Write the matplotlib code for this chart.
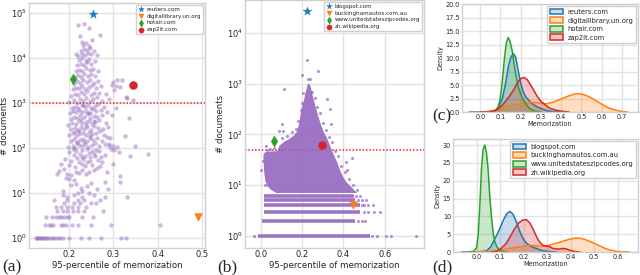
import numpy as np
import matplotlib.pyplot as plt
import seaborn as sns
from matplotlib.patches import Patch
from matplotlib.colors import to_rgba

sns.set_style("whitegrid")
plt.rcParams['font.family'] = ['DejaVu Sans']

# ---------------- data: panel (a) -----------------
# (95-percentile of memorization, # documents) for each domain
a_points = [
    # 1 document
    (0.124, 1), (0.127, 1), (0.130, 1), (0.133, 1), (0.136, 1), (0.139, 1), (0.142, 1),
    (0.145, 1), (0.149, 1), (0.153, 1), (0.158, 1), (0.163, 1), (0.168, 1), (0.174, 1),
    (0.180, 1), (0.186, 1), (0.200, 1), (0.226, 1), (0.245, 1), (0.272, 1), (0.318, 1),
    (0.328, 1),
    # 2..9
    (0.145, 2), (0.155, 2), (0.158, 2), (0.164, 2), (0.181, 2), (0.187, 2), (0.192, 2),
    (0.207, 2), (0.219, 2), (0.249, 2), (0.295, 2), (0.405, 2),
    (0.147, 3), (0.162, 3), (0.170, 3), (0.177, 3), (0.181, 3), (0.189, 3), (0.196, 3),
    (0.200, 3), (0.230, 3), (0.253, 3),
    (0.173, 4), (0.187, 4), (0.196, 4), (0.208, 4), (0.219, 4), (0.233, 4), (0.276, 4),
    (0.170, 5), (0.181, 5), (0.196, 5), (0.207, 5), (0.219, 5), (0.238, 5),
    (0.189, 6), (0.210, 6), (0.225, 6), (0.249, 6), (0.261, 6),
    (0.166, 7), (0.196, 7), (0.219, 7), (0.233, 7), (0.270, 7),
    (0.196, 8), (0.230, 8), (0.280, 8), (0.330, 8),
    (0.185, 9), (0.211, 9), (0.257, 9),
    # 10..100
    (0.219, 10), (0.245, 10), (0.185, 11), (0.230, 11), (0.263, 12), (0.287, 12),
    (0.204, 15), (0.215, 16), (0.280, 18), (0.314, 18), (0.211, 19), (0.193, 22),
    (0.240, 14), (0.226, 13), (0.250, 17), (0.200, 20), (0.314, 24), (0.172, 26),
    (0.177, 31), (0.188, 35), (0.195, 27), (0.205, 25), (0.215, 30), (0.222, 28),
    (0.230, 33), (0.238, 26), (0.245, 29), (0.255, 32), (0.262, 36), (0.270, 40),
    (0.285, 30), (0.298, 44), (0.182, 45), (0.200, 42), (0.212, 38), (0.228, 45),
    (0.240, 48), (0.252, 41), (0.265, 55), (0.190, 58), (0.205, 52), (0.218, 60),
    (0.232, 57), (0.248, 62), (0.258, 66), (0.275, 50), (0.210, 70), (0.225, 72),
    (0.236, 68), (0.244, 78), (0.255, 75), (0.268, 85), (0.200, 80), (0.215, 88),
    (0.230, 92), (0.240, 95), (0.260, 90), (0.280, 70), (0.312, 83), (0.302, 91),
    (0.295, 93), (0.338, 65), (0.378, 72), (0.222, 50), (0.235, 40), (0.247, 52),
    (0.228, 64), (0.252, 88), (0.208, 95), (0.272, 62),
    # 100..1000
    (0.197, 105), (0.208, 112), (0.214, 101), (0.221, 118), (0.229, 108), (0.236, 125),
    (0.243, 103), (0.251, 115), (0.259, 130), (0.268, 110), (0.281, 122), (0.291, 109),
    (0.203, 140), (0.211, 155), (0.218, 135), (0.225, 148), (0.232, 160), (0.240, 142),
    (0.247, 170), (0.254, 150), (0.262, 165), (0.273, 145), (0.286, 175),
    (0.200, 190), (0.209, 210), (0.216, 185), (0.223, 200), (0.231, 220), (0.238, 195),
    (0.245, 230), (0.252, 205), (0.260, 215), (0.270, 240), (0.279, 198),
    (0.205, 260), (0.212, 280), (0.219, 250), (0.226, 300), (0.234, 270), (0.241, 290),
    (0.249, 255), (0.256, 310), (0.265, 285), (0.276, 265), (0.288, 300),
    (0.198, 330), (0.207, 360), (0.215, 340), (0.222, 390), (0.229, 350), (0.237, 370),
    (0.244, 400), (0.251, 345), (0.259, 380), (0.268, 420), (0.283, 355),
    (0.203, 450), (0.211, 500), (0.218, 470), (0.225, 530), (0.233, 480), (0.240, 560),
    (0.247, 460), (0.255, 520), (0.263, 490), (0.274, 550),
    (0.201, 600), (0.209, 650), (0.216, 620), (0.223, 700), (0.230, 640), (0.238, 680),
    (0.246, 610), (0.253, 720), (0.261, 660), (0.271, 690), (0.285, 630),
    (0.206, 760), (0.213, 820), (0.220, 780), (0.228, 880), (0.235, 800), (0.242, 900),
    (0.250, 770), (0.258, 850), (0.266, 940), (0.279, 810),
    (0.217, 128), (0.233, 135), (0.248, 185), (0.221, 240), (0.238, 320), (0.227, 430),
    (0.244, 600), (0.231, 900), (0.213, 230), (0.255, 400),
    # 1000..10000
    (0.199, 1050), (0.210, 1150), (0.217, 1000), (0.224, 1250), (0.231, 1100),
    (0.239, 1300), (0.246, 1080), (0.254, 1200), (0.262, 1350), (0.275, 1120),
    (0.290, 1250), (0.204, 1450), (0.212, 1600), (0.219, 1500), (0.226, 1750),
    (0.233, 1550), (0.241, 1800), (0.249, 1480), (0.257, 1650), (0.268, 1700),
    (0.283, 1580), (0.208, 2000), (0.215, 2200), (0.222, 2100), (0.229, 2400),
    (0.236, 2050), (0.244, 2300), (0.252, 2500), (0.261, 2150), (0.272, 2350),
    (0.211, 2700), (0.218, 3000), (0.225, 2800), (0.232, 3300), (0.240, 2900),
    (0.248, 3200), (0.256, 2750), (0.266, 3100), (0.212, 3700), (0.220, 4100),
    (0.227, 3800), (0.234, 4500), (0.242, 3900), (0.250, 4300), (0.259, 4000),
    (0.215, 5000), (0.223, 5500), (0.230, 5200), (0.238, 6000), (0.246, 5300),
    (0.254, 5800), (0.265, 5100), (0.218, 6800), (0.226, 7500), (0.233, 7000),
    (0.241, 8000), (0.249, 7200), (0.222, 9000), (0.230, 9800), (0.237, 8700),
    (0.245, 9500), (0.258, 8500),
    # above 10000
    (0.220, 11000), (0.228, 12500), (0.235, 11500), (0.243, 13000), (0.250, 12000),
    (0.226, 14500), (0.233, 16000), (0.240, 15000), (0.247, 17000), (0.231, 19000),
    (0.238, 21000), (0.245, 18500), (0.256, 14000), (0.262, 11500), (0.215, 12000),
    (0.225, 30000), (0.230, 23000), (0.270, 32000), (0.220, 54000), (0.234, 56000),
    (0.245, 47000), (0.252, 25000),
    # right-hand stragglers
    (0.300, 2950), (0.307, 3160), (0.320, 3240), (0.297, 2510), (0.306, 2400),
    (0.314, 2240), (0.302, 1950), (0.329, 1380), (0.330, 1260), (0.344, 1170),
    (0.305, 760), (0.297, 540), (0.336, 460), (0.293, 166), (0.291, 123),
    (0.300, 110), (0.307, 105), (0.327, 186), (0.348, 110),
]
a_names = ["reuters.com", "digitallibrary.un.org", "hotair.com", "zap2it.com"]
a_mem = [0.253, 0.491, 0.208, 0.345]
a_docs = [95000, 3, 3400, 2450]
a_threshold = 1000

# ---------------- data: panel (b) -----------------
# outline of the saturated cloud of domains (memorization, # documents)
b_cloud = [
    (0.075, 7), (0.050, 8), (0.032, 9.5), (0.022, 12), (0.016, 18), (0.014, 25),
    (0.012, 35), (0.014, 42), (0.025, 45), (0.050, 46), (0.080, 47), (0.090, 60),
    (0.110, 70), (0.135, 80), (0.160, 95), (0.175, 115), (0.185, 160), (0.192, 250),
    (0.200, 350), (0.210, 500), (0.218, 700), (0.226, 950), (0.235, 1000),
    (0.242, 850), (0.250, 600), (0.260, 420), (0.275, 250), (0.290, 160),
    (0.305, 110), (0.320, 85), (0.335, 60), (0.350, 42), (0.370, 28), (0.385, 19),
    (0.400, 14), (0.418, 11), (0.440, 9), (0.458, 7.5), (0.467, 7),
]
# solid rows of domains with very few documents: (count, first x, last x)
b_rows = [(1, -0.016, 0.53), (2, 0.005, 0.458), (3, 0.013, 0.48),
          (4, 0.013, 0.48), (5, 0.016, 0.458), (6, 0.016, 0.45)]
b_points = [
    (-0.035, 1), (0.540, 1), (0.562, 1), (0.607, 1), (0.630, 1), (0.752, 1),
    (0.470, 2), (0.490, 2), (0.506, 2),
    (0.500, 3), (0.520, 3), (0.550, 3), (0.578, 3),
    (0.490, 4), (0.497, 4), (0.520, 4), (0.543, 4),
    (0.470, 5), (0.490, 5), (0.510, 5), (0.460, 6), (0.480, 6),
    (0.466, 8), (0.418, 20), (0.410, 29), (0.442, 35), (0.018, 10), (0.000, 20),
    (0.010, 30), (0.030, 50), (0.045, 52), (0.065, 55), (0.024, 60), (0.100, 85),
    (0.125, 95), (0.150, 110), (0.088, 115), (0.108, 115), (0.170, 130),
    (0.180, 180), (0.195, 300), (0.200, 420), (0.205, 650), (0.248, 700),
    (0.260, 520), (0.270, 350), (0.285, 260), (0.300, 170), (0.315, 120),
    (0.330, 90), (0.345, 70), (0.360, 48), (0.375, 38), (0.390, 24), (0.405, 18),
    (0.425, 13), (0.445, 10), (0.104, 160), (0.340, 160), (0.334, 320),
    (0.318, 500), (0.112, 800), (0.230, 1250), (0.240, 1250), (0.200, 1510),
    (0.276, 1740), (0.225, 2880),
]
b_names = ["blogspot.com", "buckinghamautos.com.au",
           "www.unitedstateszipcodes.org", "zh.wikipedia.org"]
b_mem = [0.222, 0.447, 0.064, 0.294]
b_docs = [26700, 4, 75, 63]
b_threshold = 50

# ---------------- data: panel (c), density curves -----------------
c_labels = ["reuters.com", "digitallibrary.un.org", "hotair.com", "zap2it.com"]
c_x = [
    [-0.055, 0.0, 0.05, 0.075, 0.095, 0.11, 0.125, 0.14, 0.152, 0.164, 0.175, 0.187,
     0.2, 0.213, 0.225, 0.24, 0.255, 0.27, 0.29, 0.31, 0.33, 0.36, 0.40],
    [-0.01, 0.03, 0.06, 0.085, 0.12, 0.167, 0.21, 0.249, 0.28, 0.30, 0.33, 0.35, 0.38,
     0.40, 0.425, 0.446, 0.47, 0.487, 0.505, 0.528, 0.55, 0.577, 0.6, 0.626, 0.65,
     0.675, 0.70, 0.73],
    [0.03, 0.06, 0.075, 0.085, 0.095, 0.105, 0.112, 0.12, 0.128, 0.138, 0.148, 0.159,
     0.168, 0.177, 0.19, 0.205, 0.22, 0.235, 0.25, 0.27, 0.30],
    [0.0, 0.04, 0.07, 0.09, 0.11, 0.13, 0.15, 0.17, 0.185, 0.2, 0.216, 0.232, 0.249,
     0.265, 0.28, 0.3, 0.315, 0.335, 0.35, 0.38, 0.41, 0.44],
]
c_density = [
    [0.0, 0.0, 0.05, 0.3, 1.2, 2.6, 5.2, 8.6, 10.2, 10.8, 10.2, 7.8, 5.3, 3.7, 2.8,
     2.2, 1.6, 1.2, 0.8, 0.5, 0.25, 0.05, 0.0],
    [0.0, 0.05, 0.2, 0.5, 0.9, 1.3, 1.6, 1.8, 1.75, 1.6, 1.55, 1.7, 2.1, 2.4, 2.8, 3.1,
     3.35, 3.4, 3.3, 3.0, 2.6, 2.0, 1.45, 0.9, 0.55, 0.3, 0.1, 0.02],
    [0.0, 0.05, 0.2, 0.6, 1.8, 4.2, 6.8, 10.0, 12.6, 13.8, 13.0, 11.2, 8.8, 6.8, 4.4,
     2.9, 1.8, 1.0, 0.5, 0.15, 0.0],
    [0.0, 0.05, 0.2, 0.6, 1.3, 2.2, 3.2, 4.4, 5.5, 6.2, 6.4, 6.0, 5.0, 4.0, 3.0, 2.0,
     1.5, 0.9, 0.6, 0.3, 0.1, 0.0],
]

# ---------------- data: panel (d), density curves -----------------
d_labels = ["blogspot.com", "buckinghamautos.com.au",
            "www.unitedstateszipcodes.org", "zh.wikipedia.org"]
d_x = [
    [-0.064, 0.0, 0.042, 0.06, 0.071, 0.085, 0.099, 0.113, 0.127, 0.141, 0.155, 0.17,
     0.184, 0.198, 0.212, 0.226, 0.24, 0.254, 0.27, 0.28, 0.31, 0.34],
    [-0.014, 0.03, 0.06, 0.085, 0.12, 0.17, 0.2, 0.226, 0.25, 0.28, 0.30, 0.325, 0.345,
     0.367, 0.39, 0.41, 0.43, 0.45, 0.466, 0.487, 0.508, 0.53, 0.55, 0.572, 0.593,
     0.62, 0.65],
    [-0.03, -0.01, 0.0, 0.007, 0.014, 0.021, 0.028, 0.035, 0.042, 0.049, 0.056, 0.064,
     0.071, 0.078, 0.088, 0.099, 0.113, 0.13],
    [0.06, 0.085, 0.105, 0.127, 0.145, 0.162, 0.18, 0.195, 0.212, 0.226, 0.24, 0.25,
     0.261, 0.272, 0.282, 0.297, 0.31, 0.325, 0.346, 0.367, 0.38, 0.395, 0.42, 0.44],
]
d_density = [
    [0.0, 0.0, 0.3, 1.4, 2.8, 4.6, 6.6, 8.8, 10.6, 11.4, 10.6, 8.4, 5.8, 3.7, 2.5,
     1.8, 1.3, 1.0, 0.6, 0.4, 0.1, 0.0],
    [0.0, 0.05, 0.15, 0.4, 0.8, 1.3, 1.6, 1.9, 1.8, 1.6, 1.7, 2.2, 2.6, 3.0, 3.5, 3.8,
     3.9, 3.75, 3.4, 2.8, 2.2, 1.5, 0.9, 0.5, 0.2, 0.05, 0.0],
    [0.0, 0.3, 1.2, 4.7, 13.0, 23.4, 28.8, 30.0, 28.0, 23.4, 16.0, 9.4, 5.2, 2.8, 1.3,
     0.5, 0.1, 0.0],
    [0.0, 0.2, 1.0, 2.5, 4.5, 6.6, 8.2, 8.9, 9.1, 8.2, 6.5, 5.0, 3.5, 2.5, 1.9, 1.7,
     1.5, 1.0, 0.8, 1.0, 0.9, 0.5, 0.1, 0.0],
]

colors = ["C0", "C1", "C2", "C3"]
markers = ["*", "v", "d", "o"]
marker_sizes = [42, 32, 32, 34]
purple = "#9467bd"
red_line = "#e8282b"

fig = plt.figure(figsize=(6.4, 2.75), dpi=100)


def style_axis(ax, fs):
    ax.tick_params(labelsize=fs, pad=1.5, length=0)
    for s in ax.spines.values():
        s.set_color("#d0d0d0")
        s.set_linewidth(1.0)
    ax.grid(color="#e3e3e3", linewidth=1.0)


def scatter_legend(ax):
    ax.legend(loc="upper right", fontsize=4.1, labelspacing=0.3, handletextpad=0.3,
              borderpad=0.4, handlelength=1.2, borderaxespad=0.3, framealpha=1,
              edgecolor="#d0d0d0", markerscale=0.65)


# ---- (a) ----
ax = fig.add_axes([0.0453, 0.0982, 0.275, 0.891])
ax.set_yscale("log")
ax.axhline(a_threshold, color=red_line, ls=(0, (1, 1.2)), lw=1.1, zorder=1.5)
pa = np.array(a_points)
ax.scatter(pa[:, 0], pa[:, 1], s=10, color=purple, alpha=0.45, linewidths=0, zorder=2)
for i in range(4):
    ax.scatter(a_mem[i], a_docs[i], s=marker_sizes[i], marker=markers[i],
               color=colors[i], label=a_names[i], zorder=3, linewidths=0.3,
               edgecolors=colors[i])
ax.set_xlim(0.109, 0.507)
ax.set_ylim(10 ** -0.22, 10 ** 5.22)
ax.set_xticks([0.2, 0.3, 0.4, 0.5])
ax.set_xlabel("95-percentile of memorization", fontsize=6.2, labelpad=1.5)
ax.set_ylabel("# documents", fontsize=6.2, labelpad=1)
style_axis(ax, 6)
scatter_legend(ax)

# ---- (b) ----
ax = fig.add_axes([0.3828, 0.0982, 0.2797, 0.9018])
ax.set_yscale("log")
ax.axhline(b_threshold, color=red_line, ls=(0, (1, 1.2)), lw=1.1, zorder=1.5)
cloud = np.array(b_cloud)
ax.fill(cloud[:, 0], cloud[:, 1], color=purple, alpha=0.9, lw=0, zorder=2)
for n, x0, x1 in b_rows:
    ax.hlines(n, x0, x1, color=purple, alpha=0.9, lw=2.6, zorder=2)
pb = np.array(b_points)
ax.scatter(pb[:, 0], pb[:, 1], s=5, color=purple, alpha=0.7, linewidths=0, zorder=2)
for i in range(4):
    ax.scatter(b_mem[i], b_docs[i], s=marker_sizes[i], marker=markers[i],
               color=colors[i], label=b_names[i], zorder=3, linewidths=0.3,
               edgecolors=colors[i])
ax.set_xlim(-0.077, 0.79)
ax.set_ylim(10 ** -0.24, 10 ** 4.65)
ax.set_xticks([0.0, 0.2, 0.4, 0.6])
ax.set_xlabel("95-percentile of memorization", fontsize=6.2, labelpad=1.5)
ax.set_ylabel("# documents", fontsize=6.2, labelpad=1)
style_axis(ax, 6)
scatter_legend(ax)


# ---- (c) and (d) ----
def density_panel(rect, xs, ys, labels, xlim, ylim, xticks, yticks, ylabels):
    ax = fig.add_axes(rect)
    handles = []
    for i in range(4):
        ax.fill_between(xs[i], ys[i], color=colors[i], alpha=0.25, lw=0)
        ax.plot(xs[i], ys[i], color=colors[i], lw=1.1)
        handles.append(Patch(facecolor=to_rgba(colors[i], 0.25), edgecolor=colors[i],
                             lw=1.1, label=labels[i]))
    ax.set_xlim(*xlim)
    ax.set_ylim(*ylim)
    ax.set_xticks(xticks)
    ax.set_yticks(yticks)
    ax.set_yticklabels(ylabels)
    ax.set_xlabel("Memorization", fontsize=4.7, labelpad=1)
    ax.set_ylabel("Density", fontsize=4.7, labelpad=1.5)
    style_axis(ax, 4.7)
    ax.legend(handles=handles, loc="upper right", fontsize=4.9, labelspacing=0.35,
              handletextpad=0.6, handlelength=2.0, handleheight=0.9, borderpad=0.4,
              borderaxespad=0.3, framealpha=1, edgecolor="#d0d0d0")


c_ticks = [0, 2.5, 5, 7.5, 10, 12.5, 15, 17.5, 20]
density_panel([0.7219, 0.5927, 0.275, 0.3927], c_x, c_density, c_labels,
              (-0.09, 0.78), (0, 20), [0.0, 0.1, 0.2, 0.3, 0.4, 0.5, 0.6, 0.7],
              c_ticks, ["%.1f" % t for t in c_ticks])
d_ticks = [0, 5, 10, 15, 20, 25, 30]
density_panel([0.7078, 0.0836, 0.289, 0.411], d_x, d_density, d_labels,
              (-0.10, 0.686), (0, 31.7), [0.0, 0.1, 0.2, 0.3, 0.4, 0.5, 0.6],
              d_ticks, [str(t) for t in d_ticks])

# panel letters
for x, y, s in [(0.003, 0.012, "(a)"), (0.339, 0.012, "(b)"),
                (0.675, 0.562, "(c)"), (0.675, 0.012, "(d)")]:
    fig.text(x, y, s, family="Liberation Serif", fontsize=12.5)

fig.savefig("out.png", dpi=100)
